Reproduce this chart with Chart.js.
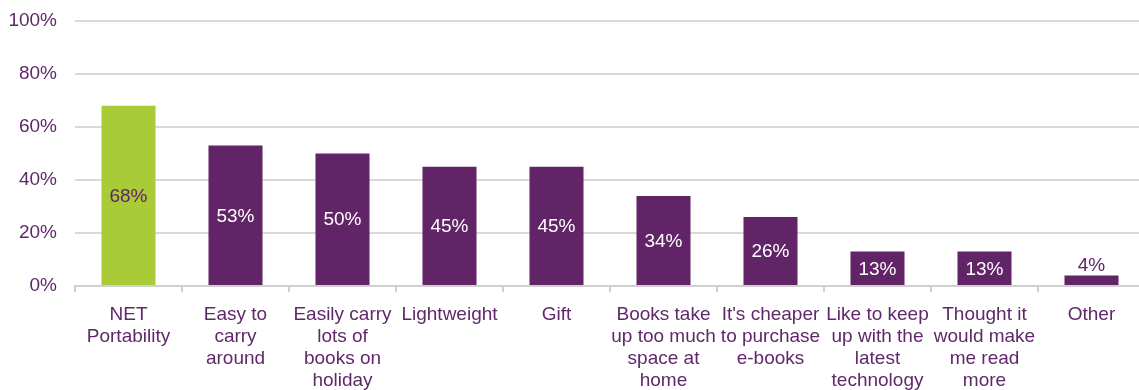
<!DOCTYPE html>
<html>
<head>
<meta charset="utf-8">
<script src="https://cdn.jsdelivr.net/npm/chart.js@4"></script>
<style>
  html, body { margin: 0; padding: 0; background: #fff; overflow: hidden; }
  #wrap { width: 1139px; height: 390px; overflow: hidden; }
</style>
</head>
<body>
<div id="wrap"><canvas id="chart" width="1146" height="390"></canvas></div>
<script>
const categories = [
  ['NET', 'Portability'],
  ['Easy to', 'carry', 'around'],
  ['Easily carry', 'lots of', 'books on', 'holiday'],
  ['Lightweight'],
  ['Gift'],
  ['Books take', 'up too much', 'space at', 'home'],
  ["It's cheaper", 'to purchase', 'e-books'],
  ['Like to keep', 'up with the', 'latest', 'technology'],
  ['Thought it', 'would make', 'me read', 'more'],
  ['Other']
];
const values = [68, 53, 50, 45, 45, 34, 26, 13, 13, 4];
const yTicks = [0, 20, 40, 60, 80, 100];

const purple = '#612467';
const green = '#a9cb37';
const textColor = '#5f2869';
const fontFamily = '"Liberation Sans", Arial, sans-serif';

// value labels drawn inside the bars (above if the bar is too short)
const valueLabels = {
  id: 'valueLabels',
  afterDatasetsDraw(chart) {
    const ctx = chart.ctx;
    const meta = chart.getDatasetMeta(0);
    ctx.save();
    ctx.font = '19px ' + fontFamily;
    ctx.textAlign = 'center';
    ctx.textBaseline = 'middle';
    meta.data.forEach((bar, i) => {
      const v = values[i];
      const h = bar.base - bar.y;
      if (h < 24) {
        ctx.fillStyle = purple;
        ctx.fillText(v + '%', bar.x, bar.y - 10);
      } else {
        ctx.fillStyle = i === 0 ? purple : '#ffffff';
        ctx.fillText(v + '%', bar.x, (bar.y + bar.base) / 2 + 1);
      }
    });
    ctx.restore();
  }
};

new Chart(document.getElementById('chart'), {
  type: 'bar',
  data: {
    labels: categories,
    datasets: [{
      data: values,
      backgroundColor: values.map((v, i) => i === 0 ? green : purple),
      barPercentage: 0.505,
      categoryPercentage: 1
    }]
  },
  options: {
    responsive: false,
    animation: false,
    layout: { padding: { left: 10, right: 1, top: 21, bottom: 0 } },
    plugins: { legend: { display: false }, tooltip: { enabled: false } },
    scales: {
      x: {
        afterFit(axis) { axis.height = 104; },
        grid: {
          offset: true,
          drawOnChartArea: false,
          color: '#d0d0d0',
          lineWidth: 2,
          tickLength: 6
        },
        border: { color: '#d0d0d0', width: 2 },
        ticks: {
          color: textColor,
          font: { family: fontFamily, size: 19, lineHeight: 1.16 },
          maxRotation: 0,
          autoSkip: false,
          padding: 12
        }
      },
      y: {
        min: 0,
        max: 100,
        afterBuildTicks(axis) { axis.ticks = yTicks.map(v => ({ value: v })); },
        afterFit(axis) { axis.width = 65; axis.paddingTop = 0; axis.paddingBottom = 0; },
        grid: { color: '#d9d9d9', lineWidth: 2, drawTicks: false },
        border: { display: false },
        ticks: {
          color: textColor,
          font: { family: fontFamily, size: 19 },
          padding: 18,
          callback: v => v + '%'
        }
      }
    }
  },
  plugins: [valueLabels]
});
</script>
</body>
</html>
